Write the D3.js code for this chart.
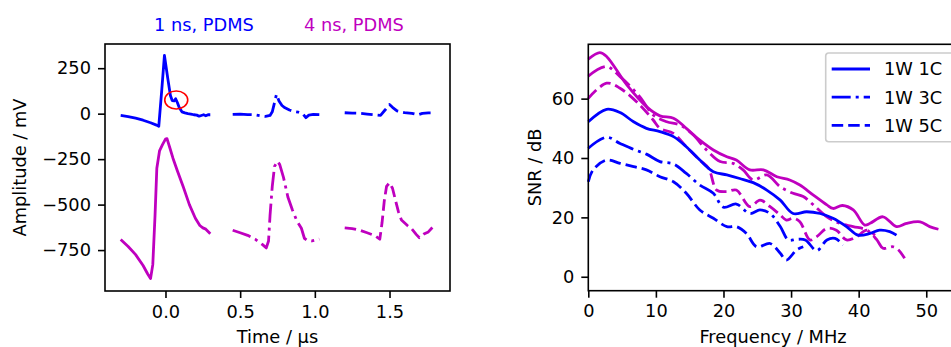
<!DOCTYPE html>
<html>
<head>
<meta charset="utf-8">
<script src="https://cdn.jsdelivr.net/npm/d3@7"></script>
<style>
  body { margin: 0; background: #fff; }
  svg { display: block; font-family: "DejaVu Sans", sans-serif; }
</style>
</head>
<body>
<svg id="chart" width="951" height="347"></svg>
<script>
// ---- data: time traces (time in us, amplitude in mV) ----
var blueSolid = [[-0.30,-10],[-0.25,-16],[-0.20,-25],[-0.15,-36],[-0.10,-50],[-0.06,-63],[-0.045,-70],[-0.025,130],[-0.007,320],[0.016,190],[0.033,100],[0.045,72],[0.058,70],[0.068,82],[0.08,60],[0.092,34],[0.11,10],[0.13,4],[0.15,0],[0.17,-2],[0.19,-6],[0.21,-8],[0.225,-14],[0.24,-10],[0.255,-6],[0.27,-12],[0.285,-6],[0.30,-6]];
var blueDashDot = [[0.45,-4],[0.50,-3],[0.55,-5],[0.60,-6],[0.64,-12],[0.67,-15],[0.70,-10],[0.715,10],[0.73,60],[0.743,106],[0.76,70],[0.78,45],[0.80,32],[0.83,20],[0.86,12],[0.89,8],[0.92,-2],[0.94,-22],[0.96,-8],[0.99,-4],[1.03,-5]];
var blueDashed = [[1.20,5],[1.25,3],[1.30,2],[1.35,-2],[1.40,-6],[1.44,-9],[1.47,20],[1.50,50],[1.52,35],[1.55,15],[1.60,6],[1.65,2],[1.69,-6],[1.72,2],[1.76,4],[1.80,4]];
var magSolid = [[-0.30,-692],[-0.25,-730],[-0.20,-775],[-0.15,-835],[-0.12,-880],[-0.10,-907],[-0.085,-830],[-0.07,-560],[-0.058,-300],[-0.04,-205],[-0.02,-170],[0.00,-140],[0.01,-137],[0.03,-190],[0.05,-245],[0.08,-315],[0.12,-405],[0.16,-500],[0.20,-575],[0.23,-615],[0.25,-628],[0.27,-635],[0.30,-660]];
var magDashDot = [[0.45,-641],[0.50,-655],[0.55,-669],[0.60,-690],[0.65,-720],[0.675,-738],[0.69,-700],[0.70,-560],[0.715,-400],[0.73,-290],[0.75,-262],[0.765,-280],[0.79,-350],[0.82,-460],[0.85,-530],[0.88,-590],[0.91,-630],[0.93,-685],[0.95,-697],[0.98,-700],[1.03,-690]];
var magDashed = [[1.20,-628],[1.25,-632],[1.30,-641],[1.35,-655],[1.40,-670],[1.435,-690],[1.45,-600],[1.465,-480],[1.48,-400],[1.50,-380],[1.52,-410],[1.54,-476],[1.56,-540],[1.58,-585],[1.62,-615],[1.65,-635],[1.68,-665],[1.70,-682],[1.73,-662],[1.76,-650],[1.80,-614]];
var markT = 0.072, markV = 75;   // red marker on the 1 ns trace

// ---- data: SNR spectra (MHz, dB) ----
var snrMag1C = [[0,73.3],[1.7,75.5],[2.7,74.2],[5.7,64.6],[8.6,57.3],[10.6,54.2],[12.6,53.4],[14.5,50],[16.5,46],[18.5,42.7],[20.5,40.4],[21.9,39.3],[23.9,36],[25.9,36],[27.9,33.7],[29.8,32.6],[31.3,30.9],[33.3,27.5],[35.3,24.2],[36.2,23],[37.6,24],[39.2,22.5],[40.9,17.4],[41.7,18],[43.6,20.2],[45.6,16.9],[47.1,18],[49.1,18.5],[50.5,16.9],[51.8,16]];
var snrMag3C = [[0,67.6],[2.7,70.8],[4.7,67.4],[7.6,60.7],[9.6,54.5],[11.6,52.2],[13.6,51.1],[15.5,47.8],[17.5,42.7],[19.5,38.8],[21.4,38.2],[22.9,36],[24.4,32.6],[26.4,34.3],[28.4,30.3],[30.3,28.1],[31.8,27],[33.3,24.2],[35.3,20.2],[37.2,18],[39.2,16.9],[41.2,15.7],[42.7,12.4],[43.6,9.6],[45.1,10.1],[45.9,9],[46.8,6.2]];
var snrMag5C = [[0,60.1],[2.7,65.2],[4.7,63.5],[7.6,57.9],[9.6,52.8],[10.6,50],[12.6,48.3],[14.5,43.8],[16.5,39.3],[17.8,36.5],[19,29.2],[20.5,28.7],[21.9,29.2],[23.9,23.6],[25.4,25.8],[26.9,23.6],[28.4,20.8],[29.3,19.1],[30.3,19.7],[31.3,18.5],[32.8,12.4],[33.8,13.5],[35.3,16.3],[36.7,15.7],[38.2,12.4],[39.7,13.5],[41.2,15.7],[42.4,14]];
var snrBlue1C = [[0,52.2],[2.7,56.4],[4.7,55.3],[6.7,52.2],[8.6,50],[10.6,48.9],[12.6,47.2],[14.5,43.8],[16.5,39.3],[18.5,35.4],[20.5,34.3],[22.4,33.1],[24.4,31.7],[26.4,29.2],[28.4,25.8],[30.3,21.3],[32.3,21.9],[34.3,21.3],[36.2,19.7],[38.2,16.9],[39.9,14],[41.7,14.6],[43.1,15.7],[44.6,15.2],[45.6,14]];
var snrBlue3C = [[0,43.3],[2.7,47],[4.7,44.9],[6.7,42.9],[8.6,41.3],[10.6,38.8],[12.6,38],[14.5,34.8],[16.5,30.9],[18.5,28.1],[20,23.4],[21.9,24.5],[23.9,21.3],[25.4,22.5],[26.9,21.3],[28.4,16.9],[29.6,12.4],[30.8,12.6],[32.1,12.4],[33.8,8.8],[35.3,12.4],[36.5,12.9],[37.7,10.7]];
var snrBlue5C = [[0,32],[0.7,36],[2.7,39.3],[4.7,38.2],[6.7,37.1],[8.6,36],[10.6,33.7],[12.6,32],[14.5,28.1],[16.5,22.5],[18.5,19.7],[20.5,16.9],[21.9,16.9],[23.4,14.6],[24.9,10.1],[26.9,11.2],[28.4,7.9],[29.3,5.6],[30.8,9],[31.8,10.1]];

var timeTicks = [0.0, 0.5, 1.0, 1.5];
var ampTicks = [250, 0, -250, -500, -750];
var freqTicks = [0, 10, 20, 30, 40, 50];
var snrTicks = [0, 20, 40, 60];
var legendLabels = ["1W 1C", "1W 3C", "1W 5C"];
var titles = ["1 ns, PDMS", "4 ns, PDMS"];

var blue = "#0000ff", mag = "#bf00bf";
var fontSize = 17.8, lw = 2.8;
var dashDash = "11.5,5", dashDot = "19,5,3,5";

var svg = d3.select("#chart");

function styleAxis(g){
    g.selectAll(".domain").remove();
    g.selectAll(".tick line").attr("stroke", "#000").attr("stroke-width", 1.6);
    g.selectAll(".tick text").attr("font-size", fontSize).attr("fill", "#000")
        .attr("font-family", "DejaVu Sans");
}

// ===== Left panel =====
var L = {left: 105, right: 450, top: 44, bottom: 291};
var xT = d3.scaleLinear().domain([-0.405, 1.905]).range([L.left, L.right]);
var yA = d3.scaleLinear().domain([-975, 383]).range([L.bottom, L.top]);

svg.append("g").attr("transform", "translate(0," + L.bottom + ")")
    .call(d3.axisBottom(xT).tickValues(timeTicks).tickFormat(d3.format(".1f")).tickSize(7).tickPadding(7))
    .call(styleAxis);
svg.append("g").attr("transform", "translate(" + L.left + ",0)")
    .call(d3.axisLeft(yA).tickValues(ampTicks).tickSize(7).tickPadding(7))
    .call(styleAxis);

var lineL = d3.line().x(function(d){return xT(d[0]);}).y(function(d){return yA(d[1]);});
var leftSeries = [
    {data: blueSolid, color: blue, dash: null},
    {data: blueDashDot, color: blue, dash: dashDot},
    {data: blueDashed, color: blue, dash: dashDash},
    {data: magSolid, color: mag, dash: null},
    {data: magDashDot, color: mag, dash: dashDot},
    {data: magDashed, color: mag, dash: dashDash}
];
leftSeries.forEach(function(s){
    svg.append("path")
        .attr("d", lineL(s.data))
        .attr("fill", "none")
        .attr("stroke", s.color)
        .attr("stroke-width", lw)
        .attr("stroke-linejoin", "round")
        .attr("stroke-dasharray", s.dash);
});

svg.append("ellipse")
    .attr("cx", xT(markT)).attr("cy", yA(markV))
    .attr("rx", 11.5).attr("ry", 9)
    .attr("fill", "none").attr("stroke", "#ff0000").attr("stroke-width", 1.6);

svg.append("rect")
    .attr("x", L.left).attr("y", L.top)
    .attr("width", L.right - L.left).attr("height", L.bottom - L.top)
    .attr("fill", "none").attr("stroke", "#000").attr("stroke-width", 1.6);

// titles
svg.append("text").text(titles[0])
    .attr("x", 204).attr("y", 31).attr("text-anchor", "middle")
    .attr("font-size", fontSize).attr("fill", blue);
svg.append("text").text(titles[1])
    .attr("x", 354).attr("y", 31).attr("text-anchor", "middle")
    .attr("font-size", fontSize).attr("fill", mag);

svg.append("text").text("Time / μs")
    .attr("x", (L.left + L.right) / 2).attr("y", 343)
    .attr("text-anchor", "middle").attr("font-size", fontSize);
svg.append("text").text("Amplitude / mV")
    .attr("transform", "translate(26," + (L.top + L.bottom) / 2 + ") rotate(-90)")
    .attr("text-anchor", "middle").attr("font-size", fontSize);

// ===== Right panel =====
var R = {left: 588.3, right: 956, top: 44.3, bottom: 290.7};
var xF = d3.scaleLinear().domain([0, 54.4]).range([R.left, R.right]);
var yS = d3.scaleLinear().domain([-4.7, 78.3]).range([R.bottom, R.top]);

svg.append("g").attr("transform", "translate(0," + R.bottom + ")")
    .call(d3.axisBottom(xF).tickValues(freqTicks).tickSize(7).tickPadding(7))
    .call(styleAxis);
svg.append("g").attr("transform", "translate(" + R.left + ",0)")
    .call(d3.axisLeft(yS).tickValues(snrTicks).tickSize(7).tickPadding(7))
    .call(styleAxis);

var lineR = d3.line().curve(d3.curveCatmullRom.alpha(0.5))
    .x(function(d){return xF(d[0]);}).y(function(d){return yS(d[1]);});
var rightSeries = [
    {data: snrMag1C, color: mag, dash: null},
    {data: snrMag3C, color: mag, dash: dashDot},
    {data: snrMag5C, color: mag, dash: dashDash},
    {data: snrBlue1C, color: blue, dash: null},
    {data: snrBlue3C, color: blue, dash: dashDot},
    {data: snrBlue5C, color: blue, dash: dashDash}
];
rightSeries.forEach(function(s){
    svg.append("path")
        .attr("d", lineR(s.data))
        .attr("fill", "none")
        .attr("stroke", s.color)
        .attr("stroke-width", lw)
        .attr("stroke-linejoin", "round")
        .attr("stroke-dasharray", s.dash);
});

svg.append("rect")
    .attr("x", R.left).attr("y", R.top)
    .attr("width", R.right - R.left).attr("height", R.bottom - R.top)
    .attr("fill", "none").attr("stroke", "#000").attr("stroke-width", 1.6);

svg.append("text").text("Frequency / MHz")
    .attr("x", 773).attr("y", 343)
    .attr("text-anchor", "middle").attr("font-size", fontSize);
svg.append("text").text("SNR / dB")
    .attr("transform", "translate(541," + (R.top + R.bottom) / 2 + ") rotate(-90)")
    .attr("text-anchor", "middle").attr("font-size", fontSize);

// legend
var leg = svg.append("g").attr("transform", "translate(825.7,53)");
leg.append("rect")
    .attr("width", 140).attr("height", 88.7).attr("rx", 3)
    .attr("fill", "#fff").attr("fill-opacity", 0.8)
    .attr("stroke", "#cccccc").attr("stroke-width", 1.6);
var legDash = [null, dashDot, dashDash];
legendLabels.forEach(function(lab, i){
    var yy = 16 + i * 28.2;
    leg.append("line")
        .attr("x1", 6).attr("x2", 44.3).attr("y1", yy).attr("y2", yy)
        .attr("stroke", blue).attr("stroke-width", lw)
        .attr("stroke-dasharray", legDash[i]);
    leg.append("text").text(lab)
        .attr("x", 58.3).attr("y", yy + 6.4)
        .attr("font-size", fontSize);
});
</script>
</body>
</html>
